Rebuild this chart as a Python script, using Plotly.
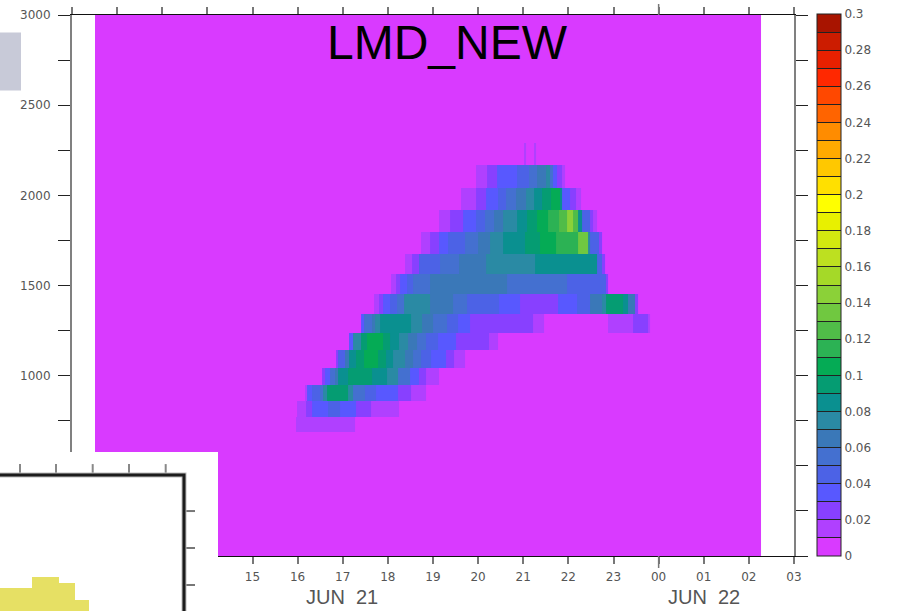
import plotly.graph_objects as go

# Time axis (hours from 00 UTC JUN 21; 24 = 00 JUN 22)
tick_hours = list(range(11, 28))
tick_labels = ["11", "12", "13", "14", "15", "16", "17", "18", "19", "20", "21", "22", "23", "00", "01", "02", "03"]
height_ticks = list(range(0, 3001, 250))
height_labels = ["", "", "500", "", "1000", "", "1500", "", "2000", "", "2500", "", "3000"]
domain_start, domain_end = 11.51, 26.27
height_top, height_bottom = 3000, 0

# Model level edges (m)
level_edges = [689, 772, 860, 947, 1042, 1141, 1237, 1341, 1451, 1562, 1673, 1797, 1917, 2043, 2166, 2292]

# Each level: time edges and contour class (class n = n*0.01 .. (n+1)*0.01)
t00 = [15.96, 17.27]
c00 = [1]
t01 = [15.99, 16.18, 16.31, 16.67, 16.94, 17.29, 17.62, 18.24]
c01 = [1, 2, 3, 4, 3, 2, 1]
t02 = [16.16, 16.21, 16.31, 16.50, 16.57, 16.65, 17.11, 17.23, 17.49, 17.74, 18.22, 18.51, 18.84]
c02 = [1, 3, 4, 5, 7, 9, 7, 5, 4, 3, 2, 1]
t03 = [16.55, 16.61, 16.72, 16.83, 16.90, 17.11, 17.64, 17.99, 18.23, 18.49, 18.70, 18.84, 19.13]
c03 = [2, 3, 5, 6, 8, 9, 8, 7, 5, 3, 2, 1]
t04 = [16.84, 16.90, 17.05, 17.14, 17.29, 17.46, 17.79, 17.95, 18.12, 18.38, 18.56, 18.73, 18.95, 19.28, 19.47, 19.71]
c04 = [2, 4, 6, 8, 9, 10, 9, 8, 7, 6, 5, 4, 3, 2, 1]
t05 = [17.14, 17.23, 17.40, 17.54, 17.90, 18.05, 18.25, 18.45, 18.65, 18.84, 19.12, 19.50, 20.24, 20.44]
c05 = [3, 7, 9, 10, 9, 8, 7, 6, 5, 4, 3, 2, 1]
t06 = [17.40, 17.46, 17.64, 17.71, 17.83, 18.51, 18.76, 19.01, 19.30, 19.55, 19.82, 21.21, 21.46, 22.87, 23.44, 23.77, 23.82]
c06 = [3, 5, 6, 7, 8, 7, 6, 5, 4, 3, 2, 1, 0, 1, 2, 1]
t07 = [17.70, 17.80, 17.90, 18.05, 18.21, 18.36, 18.93, 19.44, 19.76, 20.47, 20.93, 21.78, 22.20, 22.48, 22.74, 22.83, 23.22, 23.33, 23.48, 23.55]
c07 = [1, 2, 3, 4, 5, 7, 6, 5, 4, 3, 2, 3, 4, 6, 7, 9, 8, 6, 2]
t08 = [18.07, 18.18, 18.27, 18.42, 18.56, 18.93, 20.63, 21.96, 22.83, 22.88]
c08 = [1, 2, 3, 4, 5, 6, 5, 4, 2]
t09 = [18.39, 18.53, 18.70, 19.15, 19.58, 20.17, 21.26, 22.63, 22.75, 22.81]
c09 = [1, 2, 4, 5, 6, 7, 8, 4, 2]
t10 = [18.73, 18.93, 19.13, 19.34, 19.71, 20.00, 20.26, 20.56, 21.04, 21.37, 21.72, 22.22, 22.44, 22.49, 22.68, 22.74]
c10 = [1, 2, 3, 4, 5, 6, 7, 8, 9, 10, 11, 13, 7, 4, 2]
t11 = [19.13, 19.38, 19.67, 19.95, 20.15, 20.36, 20.56, 20.87, 21.09, 21.31, 21.54, 21.79, 21.96, 22.11, 22.21, 22.30, 22.48, 22.55, 22.64]
c11 = [1, 2, 3, 4, 5, 6, 7, 8, 9, 10, 11, 12, 14, 12, 8, 4, 2, 1]
t12 = [19.62, 19.95, 20.17, 20.45, 20.61, 20.84, 21.05, 21.24, 21.42, 21.61, 21.81, 21.86, 22.03, 22.18, 22.27]
c12 = [1, 2, 3, 4, 5, 6, 7, 8, 9, 10, 8, 3, 2, 1]
t13 = [19.95, 20.20, 20.42, 20.87, 21.13, 21.31, 21.50, 21.59, 21.66, 21.75, 21.85, 21.93]
c13 = [1, 2, 3, 4, 5, 6, 7, 5, 3, 2, 1]
t14 = [21.01, 21.05, 21.24, 21.28]
c14 = [1, 0, 1]
level_times = [t00, t01, t02, t03, t04, t05, t06, t07, t08, t09, t10, t11, t12, t13, t14]
level_classes = [c00, c01, c02, c03, c04, c05, c06, c07, c08, c09, c10, c11, c12, c13, c14]

# Colour classes, bottom (0) to top (0.3)
class_colors = [
    "#d93aff", "#b040ff", "#8840ff", "#5858ff", "#4c62e6", "#4470d0", "#3a78b8", "#2a8aa4",
    "#0a9090", "#059c72", "#05ab55", "#2cb254", "#50bc48", "#70c840", "#8bd138", "#a5d928",
    "#bde020", "#d2e810", "#e8f000", "#ffff00", "#ffe000", "#ffc800", "#ffaa00", "#ff8c00",
    "#ff6400", "#ff4800", "#ff2800", "#e82000", "#cc1c00", "#a81400",
]
cbar_ticks = [round(i * 0.01, 2) for i in range(31)]
cbar_labels = ["0", "", "0.02", "", "0.04", "", "0.06", "", "0.08", "", "0.1", "", "0.12", "", "0.14", "",
               "0.16", "", "0.18", "", "0.2", "", "0.22", "", "0.24", "", "0.26", "", "0.28", "", "0.3"]

STEP = 0.01
# Build the grid from the union of all time edges
x_edges = sorted({domain_start, domain_end, *[t for ts in level_times for t in ts]})
y_edges = [height_bottom] + level_edges + [height_top]


def class_at(ts, cs, t):
    for i, c in enumerate(cs):
        if ts[i] <= t < ts[i + 1]:
            return c
    return 0


z = [[STEP / 2 for _ in x_edges[:-1]]]
for ts, cs in zip(level_times, level_classes):
    z.append([(class_at(ts, cs, t) + 0.5) * STEP for t in x_edges[:-1]])
z.append([STEP / 2 for _ in x_edges[:-1]])

n = len(class_colors)
colorscale = []
for i, c in enumerate(class_colors):
    colorscale += [[i / n, c], [(i + 1) / n, c]]

W, H = 899, 611
L, R, T, B = 72, 794, 14.5, 556
PW, PH = R - L, B - T


def px(x):
    return (x - L) / PW


def py(y):
    return (B - y) / PH


fig = go.Figure(go.Heatmap(
    x=x_edges, y=y_edges, z=z, zmin=0, zmax=0.3, colorscale=colorscale, zsmooth=False,
    colorbar=dict(
        x=px(817), xanchor="left", xpad=0, y=0, yanchor="bottom", ypad=0,
        thickness=24, thicknessmode="pixels", len=PH, lenmode="pixels",
        tickmode="array", tickvals=cbar_ticks, ticktext=cbar_labels,
        ticks="inside", ticklen=24, tickwidth=1, tickcolor="#222222",
        outlinecolor="#222222", outlinewidth=1,
        tickfont=dict(family="DejaVu Sans", size=12, color="#555555"),
    ),
))

axis_font = dict(family="DejaVu Sans", size=12, color="#555555")
fig.update_xaxes(
    range=[11, 27], tickmode="array", tickvals=tick_hours, ticktext=tick_labels,
    ticks="outside", ticklen=7, tickwidth=1.5, tickcolor="#777777",
    showline=True, linecolor="#111111", linewidth=1, mirror="ticks",
    showgrid=False, zeroline=False, tickfont=axis_font, ticklabelstandoff=3,
)
fig.update_yaxes(
    range=[0, 3000], tickmode="array", tickvals=height_ticks, ticktext=height_labels,
    ticks="outside", ticklen=12, tickwidth=1, tickcolor="#222222",
    showline=True, linecolor="#808080", linewidth=2, mirror="ticks",
    showgrid=False, zeroline=False, tickfont=axis_font, ticklabelstandoff=5,
)

shapes = [
    # long ticks at the day change
    dict(type="line", xref="x", yref="paper", x0=24, x1=24, y0=-12 / PH, y1=0, line=dict(color="#777777", width=1.5), layer="above"),
    dict(type="line", xref="x", yref="paper", x0=24, x1=24, y0=1, y1=1 + 11 / PH, line=dict(color="#777777", width=1.5), layer="above"),
    # pasted grey block
    dict(type="rect", xref="paper", yref="paper", x0=px(0), x1=px(21), y0=py(90), y1=py(32), fillcolor="#c8cad8", line_width=0, layer="above"),
    # pasted inset
    dict(type="rect", xref="paper", yref="paper", x0=px(0), x1=px(218), y0=py(611), y1=py(452), fillcolor="#ffffff", line_width=0, layer="above"),
    dict(type="path", xref="paper", yref="paper", fillcolor="#e6e064", line_width=0, layer="above",
         path="M {} {} L {} {} L {} {} L {} {} L {} {} L {} {} L {} {} L {} {} L {} {} L {} {} Z".format(
             px(0), py(611), px(0), py(588), px(32), py(588), px(32), py(577), px(59), py(577), px(59), py(583),
             px(75), py(583), px(75), py(600), px(89), py(600), px(89), py(611))),
]
for tx in [20, 56, 92.7, 129, 165.7]:
    shapes.append(dict(type="line", xref="paper", yref="paper", x0=px(tx), x1=px(tx), y0=py(475), y1=py(464),
                       line=dict(color="#888888", width=2), layer="above"))
for ty in [511, 548, 585]:
    shapes.append(dict(type="line", xref="paper", yref="paper", x0=px(184), x1=px(195), y0=py(ty), y1=py(ty),
                       line=dict(color="#777777", width=2), layer="above"))
for color, width in [("#bbbbbb", 5), ("#1c1c1c", 3)]:
    shapes.append(dict(type="path", xref="paper", yref="paper", layer="above", line=dict(color=color, width=width),
                       path="M {} {} L {} {} L {} {}".format(px(0), py(475), px(184), py(475), px(184), py(611))))

annotations = [
    dict(text="LMD_NEW", xref="paper", yref="paper", x=px(447), y=py(42.5), showarrow=False,
         xanchor="center", yanchor="middle", font=dict(family="Liberation Sans", size=48, color="#000000")),
    dict(text="JUN  21", xref="paper", yref="paper", x=px(341.5), y=py(597.5), showarrow=False,
         xanchor="center", yanchor="middle", font=dict(family="Liberation Sans", size=20, color="#555555")),
    dict(text="JUN  22", xref="paper", yref="paper", x=px(704), y=py(597.5), showarrow=False,
         xanchor="center", yanchor="middle", font=dict(family="Liberation Sans", size=20, color="#555555")),
]

fig.update_layout(
    width=W, height=H, autosize=False,
    margin=dict(l=L, r=W - R, t=T, b=H - B, pad=0, autoexpand=False),
    paper_bgcolor="#ffffff", plot_bgcolor="#ffffff",
    shapes=shapes, annotations=annotations,
)
fig.write_html("out.html", config=dict(displayModeBar=False),
               post_script="document.body.style.margin='0';document.documentElement.style.overflow='hidden';")
